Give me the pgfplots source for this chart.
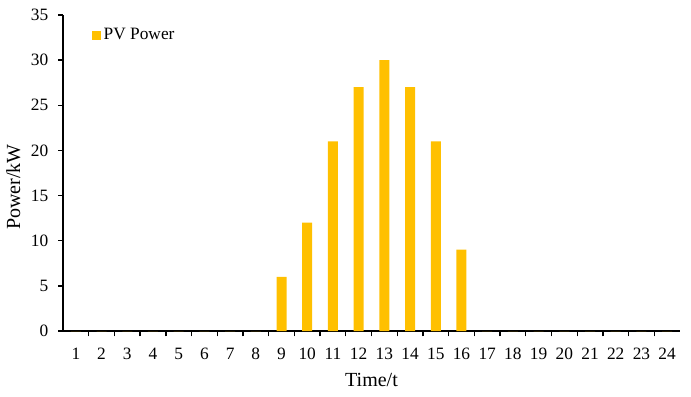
\documentclass[border=0pt]{standalone}
\usepackage{pgfplots}
\pgfplotsset{compat=1.18}
\usepackage{fontspec}
\setmainfont{Liberation Serif}
\definecolor{pvgold}{HTML}{FFC000}
\begin{document}
\fontsize{13}{15}\selectfont
\begin{tikzpicture}
\useasboundingbox (-47.25pt,-48.75pt) rectangle (471pt,248.25pt);
\begin{axis}[
  at={(0,0)}, anchor=south west,
  scale only axis, width=462.75pt, height=237pt,
  xmin=0.5, xmax=24.5, ymin=0, ymax=35,
  axis lines=left, axis line style={-, line width=1pt},
  xtick={1,...,24}, major x tick style={draw=none},
  minor xtick={1.5,2.5,...,23.5},
  minor x tick style={line width=1pt, black},
  minor tick length=4pt,
  xtick align=inside,
  ytick={0,5,...,35}, ytick align=outside,
  major tick length=3.5pt,
  y tick style={line width=1pt, black},
  tick label style={font=\fontsize{13}{15}\selectfont},
  /pgf/number format/assume math mode=true,
  xticklabel style={yshift=-5pt},
  yticklabel style={xshift=-3pt},
  xlabel={Time/t}, ylabel={Power/kW},
  label style={font=\fontsize{15}{17}\selectfont},
  xlabel style={yshift=-1pt},
  ylabel style={at={(ticklabel cs:0.455)}, yshift=-1pt},
  ybar, bar width=7.5pt,
  legend style={at={(0.04,0.975)}, anchor=north west, draw=none, fill=none, font=\fontsize{13}{15}\selectfont},
  legend image code/.code={\fill[pvgold] (0cm,-0.12cm) rectangle (0.24cm,0.12cm);},
]
\addplot[fill=pvgold, draw=none] coordinates {
(1,0) (2,0) (3,0) (4,0) (5,0) (6,0) (7,0) (8,0)
(9,6) (10,12) (11,21) (12,27) (13,30) (14,27) (15,21) (16,9)
(17,0) (18,0) (19,0) (20,0) (21,0) (22,0) (23,0) (24,0)};
\addlegendentry{PV Power}
\end{axis}
\end{tikzpicture}
\end{document}
